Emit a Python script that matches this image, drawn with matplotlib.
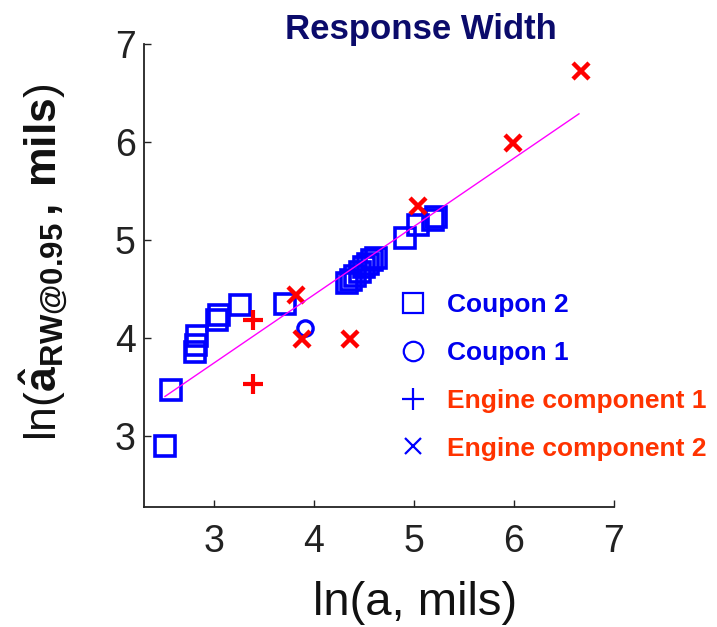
import numpy as np
import matplotlib
matplotlib.use('Agg')
import matplotlib.pyplot as plt
from matplotlib.lines import Line2D

plt.rcParams['font.family'] = ['Liberation Sans', 'DejaVu Sans']
plt.rcParams['mathtext.fontset'] = 'custom'
plt.rcParams['mathtext.rm'] = 'Liberation Sans'
plt.rcParams['mathtext.bf'] = 'Liberation Sans:bold'

# Coupon 2 (squares)
coupon2_x = [2.51, 2.57, 2.81, 2.82, 2.83, 3.03, 3.05, 3.26, 3.71,
             4.33, 4.37, 4.41, 4.46, 4.50, 4.54, 4.58, 4.62,
             4.91, 5.04, 5.19, 5.22]
coupon2_y = [2.90, 3.47, 3.86, 3.93, 4.02, 4.19, 4.24, 4.34, 4.35,
             4.56, 4.59, 4.63, 4.68, 4.73, 4.76, 4.80, 4.82,
             5.02, 5.15, 5.21, 5.24]

# Coupon 1 (circle)
coupon1_x = [3.91]
coupon1_y = [4.10]

# Engine component 1 (plus)
eng1_x = [3.39, 3.39]
eng1_y = [4.19, 3.53]

# Engine component 2 (x)
eng2_x = [3.82, 3.88, 4.36, 5.04, 5.99, 6.67]
eng2_y = [4.44, 3.99, 3.99, 5.35, 5.99, 6.72]

# fitted line
fit_slope = 0.696
fit_intercept = 1.660
fit_xrange = [2.51, 6.65]

ticks = [3, 4, 5, 6, 7]
labels = ['Coupon 2', 'Coupon 1', 'Engine component 1', 'Engine component 2']
label_colors = ['#0000ee', '#0000ee', '#ff3300', '#ff3300']

fig = plt.figure(figsize=(7.17, 6.27), dpi=100)
ax = fig.add_axes([0.2008, 0.1914, 0.6555, 0.7384])

ax.plot(coupon2_x, coupon2_y, 's', mfc='none', mec='#0000ff', ms=15, mew=2.6)
ax.plot(coupon1_x, coupon1_y, 'o', mfc='none', mec='#0000ff', ms=11, mew=2.4)
ax.plot(eng1_x, eng1_y, '+', color='#ff0000', ms=15, mew=3)
ax.plot(eng2_x, eng2_y, 'x', color='#ff0000', ms=12, mew=3.2)

fx = np.array(fit_xrange)
ax.plot(fx, fit_intercept + fit_slope * fx, '-', color='#ff00ff', lw=1)

ax.set_xlim(2.3, 7)
ax.set_ylim(2.28, 7)
ax.set_xticks(ticks)
ax.set_yticks(ticks)
ax.spines['top'].set_visible(False)
ax.spines['right'].set_visible(False)
for s in ['left', 'bottom']:
    ax.spines[s].set_linewidth(1.3)
    ax.spines[s].set_color('#222222')
ax.tick_params(direction='in', length=5, width=1, labelsize=27, colors='#222222')
ax.tick_params(axis='x', pad=12)
ax.tick_params(axis='y', pad=6)

handles = [
    Line2D([], [], ls='none', marker='s', mfc='none', mec='#0000ff', ms=14, mew=1.6),
    Line2D([], [], ls='none', marker='o', mfc='none', mec='#0000ff', ms=14, mew=1.6),
    Line2D([], [], ls='none', marker='+', color='#0000ff', ms=16, mew=1.6),
    Line2D([], [], ls='none', marker='x', color='#0000ff', ms=11, mew=1.6),
]
leg = ax.legend(handles, labels, loc='upper left', bbox_to_anchor=(0.517, 0.484),
                frameon=False, prop={'weight': 'bold', 'size': 19},
                handletextpad=0.67, labelspacing=0.9, handlelength=1.2,
                borderaxespad=0)
for t, c in zip(leg.get_texts(), label_colors):
    t.set_color(c)

fig.text(421 / 717, 1 - 30 / 627, 'Response Width', ha='center', va='center',
         fontsize=25, fontweight='bold', color='#0b0b6b')
fig.text(415 / 717, 1 - 603 / 627, 'ln(a, mils)', ha='center', va='center',
         fontsize=34, color='#111111')
fig.text(44 / 717, 1 - 262 / 627,
         r'ln($\mathbf{\hat{a}}_{\mathbf{RW@0.95}}$$\mathbf{\,,\,mils}$)',
         ha='center', va='center', rotation=90, fontsize=32, color='#111111')

fig.savefig('out.png', dpi=100)
